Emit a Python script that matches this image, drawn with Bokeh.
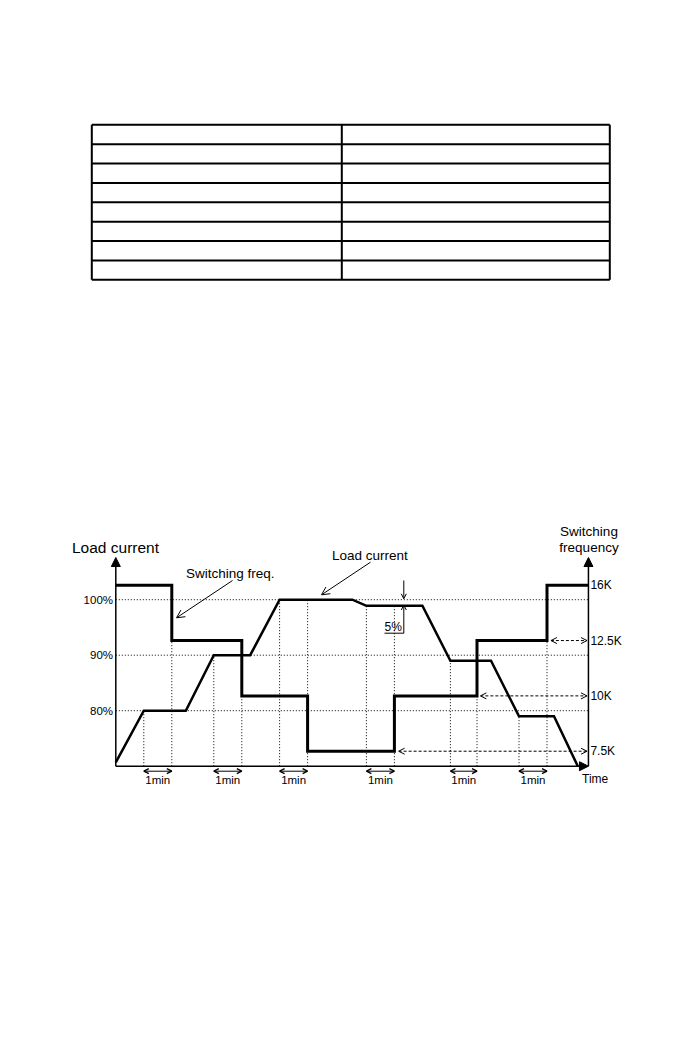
import numpy as np
from bokeh.plotting import figure
from bokeh.models import Range1d, Arrow, OpenHead, NormalHead
from bokeh.embed import file_html
from bokeh.resources import INLINE
from bokeh.core.properties import value

# ---------------- data ----------------
# blank table (rows x columns)
table_rows = 8
table_cols = 2

# load current profile (time in minutes, load in %)
load_t = [0, 1.0, 2.5, 3.5, 4.8, 5.85, 8.45, 8.95, 10.95, 11.95, 13.4, 14.4, 15.65, 16.5]
load_pct = [70.7, 80, 80, 90, 90, 100, 100, 98.9, 98.9, 89.0, 89.0, 79.0, 79.0, 70.0]

# switching frequency steps (kHz), change times in minutes
freq_change_t = [0, 2.0, 4.5, 6.85, 9.95, 12.9, 15.4]
freq_k = [16, 12.5, 10, 7.5, 10, 12.5, 16]
freq_end_t = 16.88

# axis ticks
load_ticks = [80, 90, 100]
load_tick_labels = ["80%", "90%", "100%"]
freq_levels = [7.5, 10, 12.5, 16]
freq_tick_labels = ["7.5K", "10K", "12.5K", "16K"]

# 1-minute hold intervals: load reaches level -> frequency switches 1 min later
reach_t = [1.0, 3.5, 5.85, 8.95, 11.95, 14.4]
switch_t = [2.0, 4.5, 6.85, 9.95, 12.9, 15.4]

# dashed hold arrows toward the frequency axis
hold_levels = [12.5, 10, 7.5]
hold_start_t = [15.54, 13.02, 10.1]

# ---------------- layout ----------------
W, H = 684, 1038
X0, Y0 = 0, 0          # page position of the canvas origin
FONT = value("Liberation Sans")

# page pixel frame (for table & annotations)
p = figure(width=W, height=H, x_range=Range1d(X0, X0 + W), y_range=Range1d(Y0 + H, Y0),
           output_backend="svg", toolbar_location=None, min_border=0,
           x_axis_location=None, y_axis_location=None)
p.grid.visible = False
p.outline_line_color = None
p.background_fill_color = "white"
p.border_fill_color = "white"

# chart scales
T0_PX, PX_PER_MIN = 115.3, 28.0
P70_PY, PX_PER_PCT = 765.7, 5.55
LVL0_PCT, PCT_PER_LVL = 72.7, 9.97
t_lo, t_hi = (X0 - T0_PX) / PX_PER_MIN, (X0 + W - T0_PX) / PX_PER_MIN
pct_lo = 70 - (Y0 + H - P70_PY) / PX_PER_PCT
pct_hi = 70 + (P70_PY - Y0) / PX_PER_PCT
p.extra_x_ranges = {"t": Range1d(t_lo, t_hi)}
p.extra_y_ranges = {"pct": Range1d(pct_lo, pct_hi),
                    "lvl": Range1d((pct_lo - LVL0_PCT) / PCT_PER_LVL,
                                   (pct_hi - LVL0_PCT) / PCT_PER_LVL)}
TP = dict(x_range_name="t", y_range_name="pct")
TL = dict(x_range_name="t", y_range_name="lvl")

# ---------------- table ----------------
tl, tr, tt, tb, tsplit = 91.3, 609.3, 124.3, 279.3, 341.3
row_h = (tb - tt) / table_rows
hy = [tt + i * row_h for i in range(table_rows + 1)]
p.segment(x0=[tl] * len(hy), x1=[tr] * len(hy), y0=hy, y1=hy,
          line_color="black", line_width=2)
vx = [tl, tsplit, tr][: table_cols + 1]
p.segment(x0=vx, x1=vx, y0=[tt] * len(vx), y1=[tb] * len(vx),
          line_color="black", line_width=2)

# ---------------- chart ----------------
t_end = freq_end_t
lvl_of = lambda k: freq_levels.index(k)

# dotted horizontal grid
p.segment(x0=[0] * 3, x1=[t_end] * 3, y0=load_ticks, y1=load_ticks,
          line_color="black", line_width=1, line_dash="1 2", **TP)

# dotted vertical markers
def freq_pct_at(t):
    vals = []
    for i, ct in enumerate(freq_change_t):
        nxt = freq_change_t[i + 1] if i + 1 < len(freq_change_t) else t_end
        if ct - 1e-6 <= t <= nxt + 1e-6:
            vals.append(LVL0_PCT + PCT_PER_LVL * lvl_of(freq_k[i]))
    return max(vals)

mark_t = reach_t + switch_t
mark_top = [float(np.interp(t, load_t, load_pct)) for t in reach_t] + \
           [max(float(np.interp(t, load_t, load_pct)), freq_pct_at(t)) for t in switch_t]
p.segment(x0=mark_t, x1=mark_t, y0=[70] * len(mark_t), y1=mark_top,
          line_color="black", line_width=1, line_dash="1 2", **TP)

# dashed hold arrows
for lv, st in zip(hold_levels, hold_start_t):
    p.add_layout(Arrow(x_start=st, y_start=lvl_of(lv), x_end=t_end - 0.05, y_end=lvl_of(lv),
                       start=OpenHead(size=6, line_width=1), end=OpenHead(size=6, line_width=1),
                       line_width=1, line_dash="3 2", **TL))

# 1 min arrows + labels
for a, b in zip(reach_t, switch_t):
    p.add_layout(Arrow(x_start=a, y_start=69.1, x_end=b, y_end=69.1,
                       start=OpenHead(size=5, line_width=1.3), end=OpenHead(size=5, line_width=1.3),
                       line_width=1, **TP))
p.text(x=[(a + b) / 2 for a, b in zip(reach_t, switch_t)], y=[67.55] * len(reach_t),
       text=["1min"] * len(reach_t), text_align="center", text_baseline="middle",
       text_font=FONT, text_font_size="11.5px", text_color="black", **TP)

# switching frequency (thick step)
fx = freq_change_t + [t_end]
fy = [lvl_of(k) for k in freq_k] + [lvl_of(freq_k[-1])]
p.step(x=fx, y=fy, mode="after", line_color="black", line_width=3, line_join="miter", **TL)

# load current
p.line(load_t, load_pct, line_color="black", line_width=2.5, line_join="miter", **TP)

# axes
head = lambda: NormalHead(size=9, fill_color="black", line_color="black", line_width=1)
p.add_layout(Arrow(x_start=0, y_start=70, x_end=0, y_end=107.6, end=head(), line_width=1.5, **TP))
p.add_layout(Arrow(x_start=t_end, y_start=70, x_end=t_end, y_end=107.6, end=head(), line_width=1.5, **TP))
p.add_layout(Arrow(x_start=0, y_start=70, x_end=t_end, y_end=70, end=head(), line_width=1.5, **TP))

# tick labels
p.text(x=[-0.1] * 3, y=load_ticks, text=load_tick_labels, text_align="right",
       text_baseline="middle", text_font=FONT, text_font_size="11.5px", text_color="black", **TP)
p.text(x=[t_end + 0.07] * 4, y=[lvl_of(k) for k in freq_levels], text=freq_tick_labels,
       text_align="left", text_baseline="middle", text_font=FONT, text_font_size="12px",
       text_color="black", **TL)

# titles and annotations (page pixels)
def txt(x, y, s, size, align="left"):
    p.text(x=[x], y=[y], text=[s], text_align=align, text_baseline="middle",
           text_font=FONT, text_font_size=size, text_color="black")

txt(71.5, 547, "Load current", "15.5px")
txt(588.5, 531, "Switching", "13.5px", "center")
txt(588.5, 547, "frequency", "13.5px", "center")
txt(185.5, 573, "Switching freq.", "13.5px")
txt(331.5, 554.5, "Load current", "13.5px")
txt(581.5, 778.5, "Time", "12px")
txt(384, 626.5, "5%", "12px")

p.add_layout(Arrow(x_start=232, y_start=580, x_end=176, y_end=617.3,
                   end=OpenHead(size=8, line_width=1), line_width=1))
p.add_layout(Arrow(x_start=370, y_start=561.7, x_end=321, y_end=594.3,
                   end=OpenHead(size=8, line_width=1), line_width=1))
# 5% marker
p.add_layout(Arrow(x_start=403.3, y_start=580, x_end=403.3, y_end=598.3,
                   end=OpenHead(size=5, line_width=1), line_width=1))
p.add_layout(Arrow(x_start=403.3, y_start=632.7, x_end=403.3, y_end=604.5,
                   end=OpenHead(size=5, line_width=1), line_width=1))
p.segment(x0=[384], x1=[403.3], y0=[632.7], y1=[632.7], line_color="black", line_width=1)

open("out.html", "w").write(file_html(p, INLINE))
